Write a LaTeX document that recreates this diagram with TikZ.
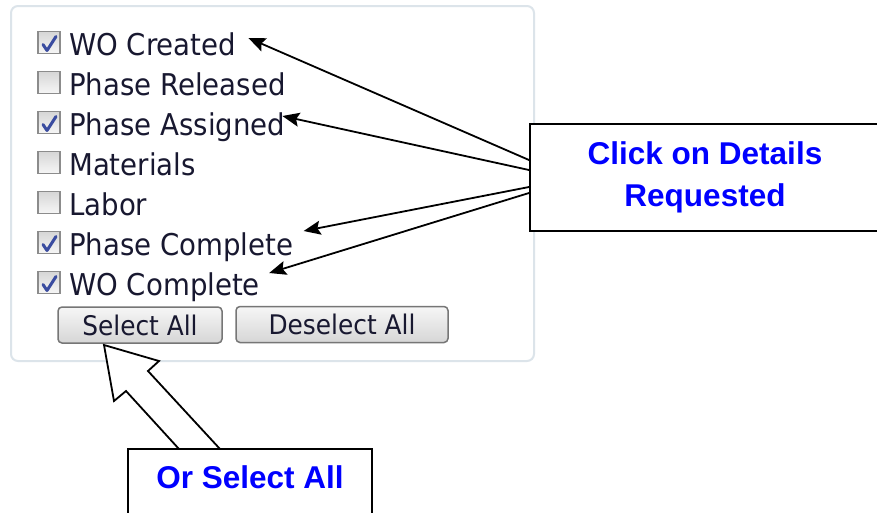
\documentclass[tikz,border=0pt]{standalone}
\usepackage{fontspec}
\newfontfamily\uifont[FakeStretch=0.92]{DejaVu Sans}
\newfontfamily\callfont{Liberation Sans}
\usetikzlibrary{arrows.meta, calc, positioning}

\definecolor{panelline}{RGB}{220,228,234}
\definecolor{uitext}{RGB}{24,24,48}
\definecolor{tickblue}{RGB}{58,76,160}
\definecolor{boxline}{RGB}{140,140,140}
\definecolor{boxtop}{RGB}{214,214,214}
\definecolor{boxbot}{RGB}{246,246,246}
\definecolor{btnline}{RGB}{118,118,118}
\definecolor{btntop}{RGB}{246,246,246}
\definecolor{btnbot}{RGB}{214,214,214}
\definecolor{callblue}{RGB}{0,0,255}

\begin{document}
\begin{tikzpicture}[x=1pt,y=-1pt,line cap=round,
    chkbox/.style={rectangle,draw=boxline,line width=1.5pt,top color=boxtop,bottom color=boxbot,minimum size=22pt,inner sep=0pt},
    ticked/.style={chkbox,path picture={\draw[tickblue,line width=3pt,line join=round]
        ([shift={(-6,2)}]path picture bounding box.center) -- ([shift={(-2,8)}]path picture bounding box.center)
        -- ([shift={(7,-6)}]path picture bounding box.center);}},
    rowlbl/.style={anchor=base west,inner sep=0pt,text=uitext,font=\uifont\fontsize{30}{36}\selectfont,text height=22pt,text depth=6pt},
    uibtn/.style={draw=btnline,line width=1.5pt,rounded corners=4pt,top color=btntop,bottom color=btnbot,minimum height=36pt,inner sep=0pt,text=uitext,font=\uifont\fontsize{27}{32}\selectfont},
    callout/.style={draw=black,line width=2pt,fill=white,text=callblue,font=\callfont\bfseries\fontsize{31.5}{42}\selectfont,inner sep=0pt},
    pointer/.style={line width=1.8pt,-{Stealth[length=17pt,width=14pt,inset=3pt]}}]

    \fill[white] (0,0) rectangle (877,512);
    \useasboundingbox (0,0) rectangle (877,512);
    \clip (0,0) rectangle (877,512);

    % panel
    \draw[panelline,line width=2pt,rounded corners=7pt] (11,6) rectangle (534,361);

    % check list
    \node[ticked] (cb1) at (49,42.5) {};
    \node[chkbox] (cb2) at (49,82.5) {};
    \node[ticked] (cb3) at (49,122.5) {};
    \node[chkbox] (cb4) at (49,162.5) {};
    \node[chkbox] (cb5) at (49,202.5) {};
    \node[ticked] (cb6) at (49,242.5) {};
    \node[ticked] (cb7) at (49,282.5) {};

    \node[rowlbl] (lblwo) at (69,55) {WO Created};
    \node[rowlbl] (lblrel) at (69,95) {Phase Released};
    \node[rowlbl] (lblasg) at (69,135) {Phase Assigned};
    \node[rowlbl] (lblmat) at (69,175) {Materials};
    \node[rowlbl] (lbllab) at (69,215) {Labor};
    \node[rowlbl] (lblpc) at (69,255) {Phase Complete};
    \node[rowlbl] (lblwoc) at (69,295) {WO Complete};

    % buttons
    \node[uibtn,minimum width=164pt] (selbtn) at (140,325) {Select All};
    \node[uibtn,minimum width=212pt] (deselbtn) at (342,324.5) {Deselect All};

    % hollow arrow
    \filldraw[fill=white,draw=black,line width=1.8pt,line join=miter]
        (220,449) -- (148,371) -- (159,361) -- (104,345) -- (114,401) -- (126,391) -- (179,449);

    % callouts
    \node[callout,align=center,minimum width=350pt,minimum height=107pt] (details) at (705,177.5) {Click on Details\\Requested};
    \node[callout,minimum width=244pt,minimum height=66pt,text height=22pt,text depth=10pt] (selall) at (250,482) {Or Select All};

    \draw[pointer] ([yshift=17.5pt]details.west) -- ([xshift=12pt,yshift=9pt]lblwo.east);
    \draw[pointer] ([yshift=7.5pt]details.west) -- ([xshift=-3pt,yshift=11pt]lblasg.east);
    \draw[pointer] ([yshift=-9.5pt]details.west) -- ([xshift=10pt,yshift=16pt]lblpc.east);
    \draw[pointer] ([yshift=-15.5pt]details.west) -- ([xshift=9pt,yshift=14pt]lblwoc.east);
\end{tikzpicture}
\end{document}
